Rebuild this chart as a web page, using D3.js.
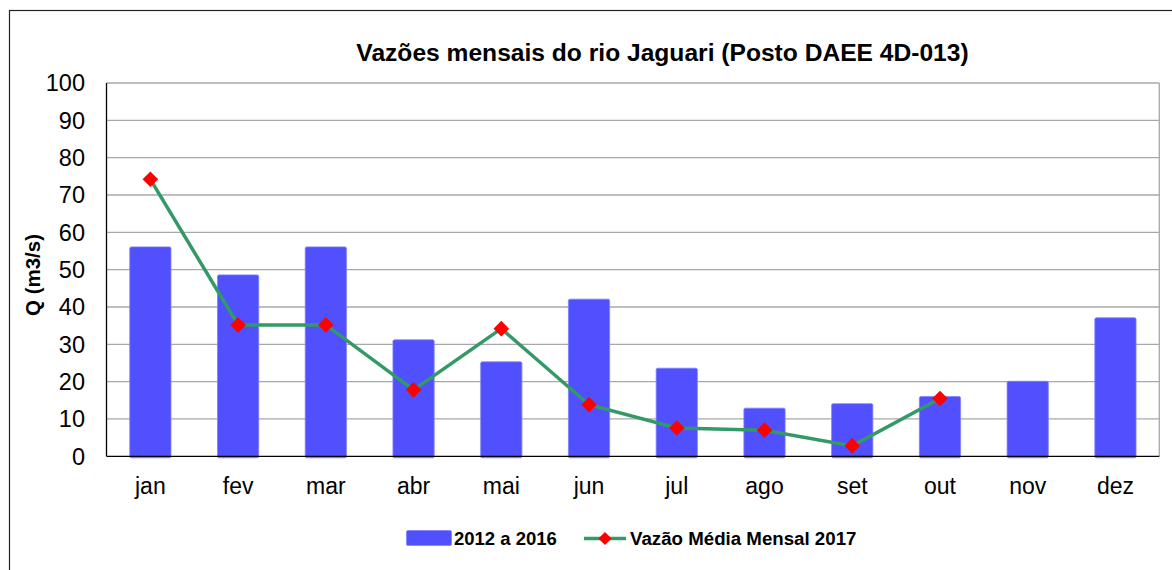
<!DOCTYPE html>
<html>
<head>
<meta charset="utf-8">
<script src="https://cdn.jsdelivr.net/npm/d3@7"></script>
<style>
  body { margin: 0; background: #fff; }
  text { font-family: Arial, "Liberation Sans", sans-serif; }
</style>
</head>
<body>
<script>
// dados
var meses = ["jan","fev","mar","abr","mai","jun","jul","ago","set","out","nov","dez"];
var vazao2012a2016 = [56.1, 48.6, 56.1, 31.2, 25.3, 42.1, 23.6, 12.9, 14.1, 16.0, 20.1, 37.1];
var vazao2017 = [74.2, 35.2, 35.2, 17.8, 34.2, 13.8, 7.6, 7.0, 2.8, 15.5]; // jan..out
var yTicks = [0,10,20,30,40,50,60,70,80,90,100];

var W = 1172, H = 570;
var pLeft = 106.5, pRight = 1159.3, pTop = 83, pBottom = 456.3;

var svg = d3.select("body").append("svg")
    .attr("width", W)
    .attr("height", H);

// moldura externa
svg.append("rect")
    .attr("x", 9.5).attr("y", 10.5)
    .attr("width", W + 20).attr("height", H + 20)
    .attr("fill", "none").attr("stroke", "#222").attr("stroke-width", 1.2);

var x = d3.scaleBand().domain(meses).range([pLeft, pRight]).paddingInner(0.53).paddingOuter(0.265);
var xc = d3.scaleBand().domain(meses).range([pLeft, pRight]);
var y = d3.scaleLinear().domain([0, 100]).range([pBottom, pTop]);

// grade
svg.append("g").selectAll("line")
    .data(yTicks.filter(function(d){ return d > 0; }))
    .enter().append("line")
    .attr("x1", pLeft).attr("x2", pRight)
    .attr("y1", function(d){ return y(d); })
    .attr("y2", function(d){ return y(d); })
    .attr("stroke", "#a8a8a8").attr("stroke-width", 1.3);

svg.append("line")
    .attr("x1", pRight).attr("x2", pRight).attr("y1", pTop).attr("y2", pBottom)
    .attr("stroke", "#a8a8a8").attr("stroke-width", 1.3);

// barras
svg.append("g").selectAll("rect")
    .data(vazao2012a2016)
    .enter().append("rect")
    .attr("x", function(d, i){ return x(meses[i]); })
    .attr("y", function(d){ return y(d); })
    .attr("width", x.bandwidth())
    .attr("height", function(d){ return pBottom - y(d) + 1.5; })
    .attr("rx", 1.5)
    .attr("fill", "#5050ff")
    .attr("stroke", "#8080ff").attr("stroke-width", 0.8);

// eixos
svg.append("line")
    .attr("x1", pLeft).attr("x2", pLeft).attr("y1", pTop).attr("y2", pBottom)
    .attr("stroke", "#000").attr("stroke-width", 1.3);
svg.append("line")
    .attr("x1", pLeft).attr("x2", pRight).attr("y1", pBottom).attr("y2", pBottom)
    .attr("stroke", "#000").attr("stroke-width", 1.3);

svg.append("g").selectAll("text")
    .data(yTicks)
    .enter().append("text")
    .attr("x", 85)
    .attr("y", function(d){ return y(d); })
    .attr("dy", "0.36em")
    .attr("text-anchor", "end")
    .attr("font-size", 23.5)
    .text(function(d){ return d; });

svg.append("g").selectAll("text")
    .data(meses)
    .enter().append("text")
    .attr("x", function(d){ return xc(d) + xc.bandwidth() / 2; })
    .attr("y", 494)
    .attr("text-anchor", "middle")
    .attr("font-size", 23)
    .text(function(d){ return d; });

// linha 2017
var line = d3.line()
    .x(function(d, i){ return xc(meses[i]) + xc.bandwidth() / 2; })
    .y(function(d){ return y(d); });

svg.append("path")
    .datum(vazao2017)
    .attr("d", line)
    .attr("fill", "none")
    .attr("stroke", "#339966")
    .attr("stroke-width", 3.5);

var diamond = d3.symbol().type(d3.symbolDiamond2).size(155);
svg.append("g").selectAll("path")
    .data(vazao2017)
    .enter().append("path")
    .attr("transform", function(d, i){
        return "translate(" + (xc(meses[i]) + xc.bandwidth() / 2) + "," + y(d) + ")";
    })
    .attr("d", diamond)
    .attr("fill", "#ff0000");

// titulos
svg.append("text")
    .attr("x", 662.5).attr("y", 61)
    .attr("text-anchor", "middle")
    .attr("font-size", 24.6).attr("font-weight", "bold")
    .text("Vazões mensais do rio Jaguari (Posto DAEE 4D-013)");

svg.append("text")
    .attr("transform", "translate(40,275) rotate(-90)")
    .attr("text-anchor", "middle")
    .attr("font-size", 20.5).attr("font-weight", "bold")
    .text("Q (m3/s)");

// legenda
var leg = svg.append("g");
leg.append("rect")
    .attr("x", 406.5).attr("y", 530.5).attr("width", 45).attr("height", 15).attr("rx", 1.5)
    .attr("fill", "#5050ff").attr("stroke", "#8080ff").attr("stroke-width", 0.8);
leg.append("text")
    .attr("x", 454).attr("y", 545)
    .attr("font-size", 18.5).attr("font-weight", "bold")
    .text("2012 a 2016");
leg.append("line")
    .attr("x1", 584).attr("x2", 626).attr("y1", 538.5).attr("y2", 538.5)
    .attr("stroke", "#339966").attr("stroke-width", 3.5);
leg.append("path")
    .attr("transform", "translate(605,538.5)")
    .attr("d", d3.symbol().type(d3.symbolDiamond2).size(110))
    .attr("fill", "#ff0000");
leg.append("text")
    .attr("x", 630).attr("y", 545)
    .attr("font-size", 18.7).attr("font-weight", "bold")
    .text("Vazão Média Mensal 2017");
</script>
</body>
</html>
